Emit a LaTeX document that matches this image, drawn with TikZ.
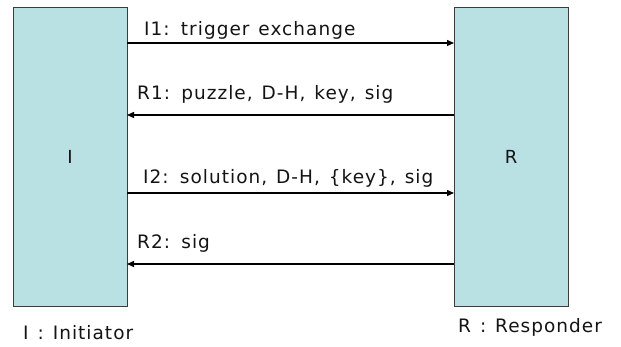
\documentclass[tikz,border=0pt]{standalone}
\usepackage{fontspec}
\setmainfont{DejaVu Sans}[LetterSpace=5.5,WordSpace=1.3]
\usetikzlibrary{arrows.meta}
\definecolor{boxfill}{RGB}{185,224,227}
\definecolor{boxline}{RGB}{60,60,60}
\definecolor{ink}{RGB}{20,20,20}
\begin{document}
\begin{tikzpicture}[x=1pt,y=-1pt,
  party/.style={draw=boxline,fill=boxfill,line width=0.9pt,minimum width=114pt,minimum height=299pt,inner sep=0pt,text=ink,font=\fontsize{18}{22}\selectfont},
  msg/.style={line width=1.3pt,-{Triangle[length=7pt,width=6pt]}},
  lbl/.style={anchor=base west,inner sep=0pt,text=ink,font=\fontsize{18.5}{22}\selectfont},
  legend/.style={anchor=base west,inner sep=0pt,text=ink,font=\fontsize{18.5}{22}\selectfont}]
\useasboundingbox (0,0) rectangle (621,347);
\node[party] (I) at (70,156.5) {I};
\node[party] (R) at (511,156.5) {R};
% message lines between the two parties
\coordinate (i1a) at (127,43);  \coordinate (i1b) at (454,43);
\coordinate (r1a) at (454,115); \coordinate (r1b) at (127,115);
\coordinate (i2a) at (127,193); \coordinate (i2b) at (454,193);
\coordinate (r2a) at (454,264); \coordinate (r2b) at (127,264);
\draw[msg] (i1a) -- (i1b);
\draw[msg] (r1a) -- (r1b);
\draw[msg] (i2a) -- (i2b);
\draw[msg] (r2a) -- (r2b);
\node[lbl] (t1) at (144,35.5) {I1: trigger exchange};
\node[lbl] (t2) at (137,100) {R1: puzzle, D-H, key, sig};
\node[lbl] (t3) at (143,183.5) {I2: solution, D-H, \{key\}, sig};
\node[lbl] (t4) at (137,249) {R2: sig};
\node[legend] (ci) at (23,339) {I : Initiator};
\node[legend] (cr) at (458,332) {R : Responder};
\end{tikzpicture}
\end{document}
